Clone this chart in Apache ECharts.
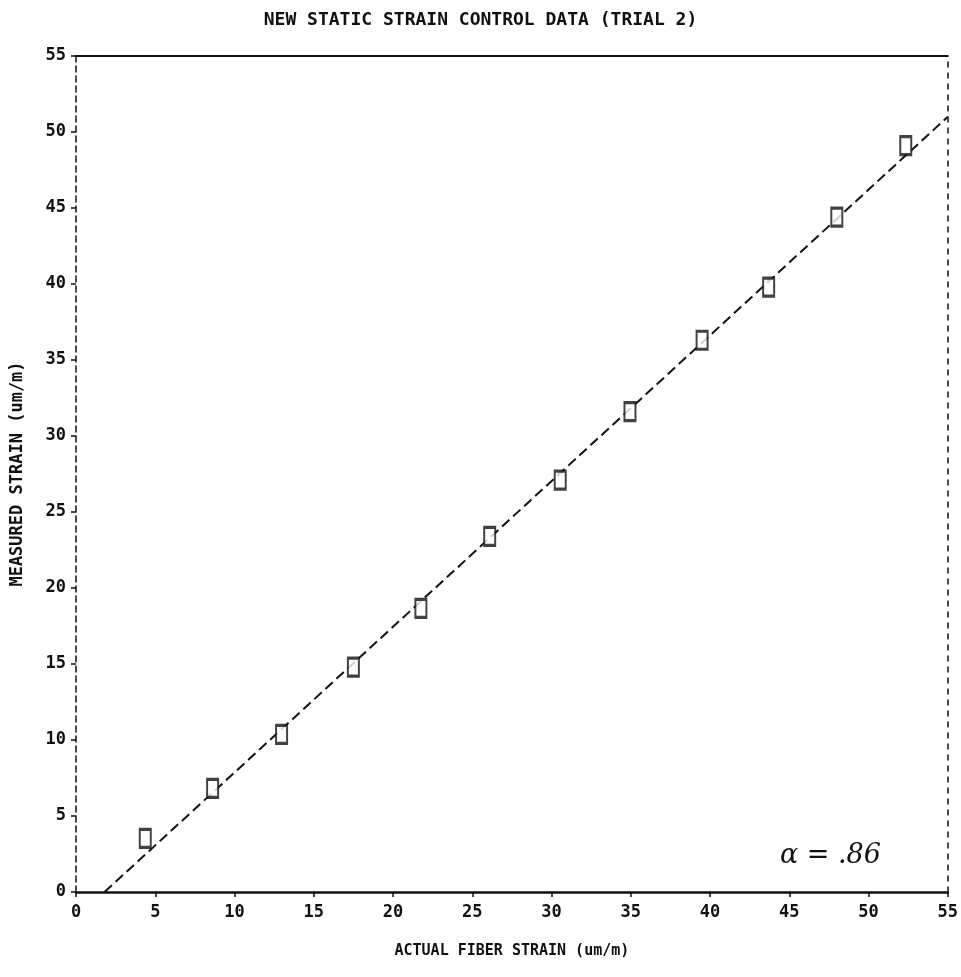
<!DOCTYPE html>
<html>
<head>
<meta charset="utf-8">
<title>New static strain control data (trial 2)</title>
<script src="https://cdn.jsdelivr.net/npm/echarts@6/dist/echarts.min.js"></script>
<style>
  html, body { margin: 0; padding: 0; background: #fff; }
  #chart { width: 961px; height: 977px; }
</style>
</head>
<body>
<div id="chart"></div>
<script>
// measured points (actual fiber strain vs measured strain, um/m)
const actualStrain = [4.37, 8.62, 12.97, 17.5, 21.76, 26.1, 30.55, 34.95, 39.5, 43.7, 48.0, 52.35]
const measuredStrain = [3.53, 6.82, 10.37, 14.8, 18.66, 23.4, 27.1, 31.6, 36.3, 39.8, 44.4, 49.1]

// fitted line end points
const fitX = [1.8, 55]
const fitY = [0, 51]

const axisMin = 0
const axisMax = 55
const tickStep = 5
const alphaNote = 'α = .86'

const font = 'DejaVu Sans Mono'
const ink = '#111'

const chart = echarts.init(document.getElementById('chart'))

const option = {
  backgroundColor: '#fff',
  animation: false,
  title: {
    text: 'NEW STATIC STRAIN CONTROL DATA (TRIAL 2)',
    left: 'center',
    top: 6,
    textStyle: { fontFamily: font, fontWeight: 'bold', fontSize: 18, color: ink }
  },
  grid: { left: 76, right: 9, top: 56, bottom: 85 },
  xAxis: [
    {
      type: 'value',
      min: axisMin,
      max: axisMax,
      interval: tickStep,
      name: 'ACTUAL FIBER STRAIN (um/m)',
      nameLocation: 'middle',
      nameGap: 52,
      nameTextStyle: { fontFamily: font, fontWeight: 'bold', fontSize: 15, color: ink },
      axisLine: { lineStyle: { color: ink, width: 2.5 } },
      axisTick: { length: 5, lineStyle: { color: ink, width: 1.5 } },
      axisLabel: { margin: 12, fontFamily: font, fontWeight: 'bold', fontSize: 17, color: ink },
      splitLine: { show: false }
    },
    {
      // top border
      type: 'value',
      position: 'top',
      min: axisMin,
      max: axisMax,
      axisLine: { show: true, onZero: false, lineStyle: { color: ink, width: 2 } },
      axisTick: { show: false },
      axisLabel: { show: false },
      splitLine: { show: false }
    }
  ],
  yAxis: [
    {
      type: 'value',
      min: axisMin,
      max: axisMax,
      interval: tickStep,
      name: 'MEASURED STRAIN (um/m)',
      nameLocation: 'middle',
      nameGap: 50,
      nameTextStyle: { fontFamily: font, fontWeight: 'bold', fontSize: 17, color: ink },
      axisLine: { lineStyle: { color: ink, width: 1.5, type: [6, 4] } },
      axisTick: { length: 5, lineStyle: { color: ink, width: 1.5 } },
      axisLabel: { margin: 10, fontFamily: font, fontWeight: 'bold', fontSize: 17, color: ink },
      splitLine: { show: false }
    },
    {
      // right border
      type: 'value',
      position: 'right',
      min: axisMin,
      max: axisMax,
      axisLine: { show: true, onZero: false, lineStyle: { color: ink, width: 1.5, type: [5, 6] } },
      axisTick: { show: false },
      axisLabel: { show: false },
      splitLine: { show: false }
    }
  ],
  graphic: [
    {
      type: 'text',
      left: 780,
      top: 842,
      style: {
        text: alphaNote,
        font: 'italic 27px "DejaVu Serif"',
        fill: ink
      }
    }
  ],
  series: [
    {
      name: 'fit',
      type: 'line',
      data: fitX.map((x, i) => [x, fitY[i]]),
      showSymbol: false,
      lineStyle: { color: ink, width: 2, type: [10, 5] },
      z: 2
    },
    {
      name: 'measured',
      type: 'scatter',
      data: actualStrain.map((x, i) => [x, measuredStrain[i]]),
      symbol: 'rect',
      symbolSize: [11, 18],
      itemStyle: { color: '#fff', borderColor: ink, borderWidth: 2.5 },
      z: 3
    }
  ]
}

chart.setOption(option)
</script>
</body>
</html>
